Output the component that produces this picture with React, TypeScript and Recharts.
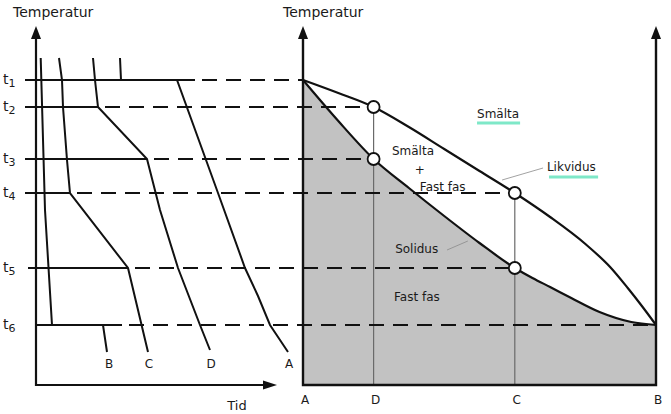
import React from 'react';
import { ComposedChart, Line, Area, Scatter, XAxis, YAxis } from 'recharts';

// ---------- axis extents (data units) ----------
// Temperature: arbitrary units, 0 = bottom of both diagrams
const TEMP_MIN = -29;
const TEMP_MAX = 385;
// Time (left diagram), 0 = temperature axis
const TIME_MIN = -36;
const TIME_MAX = 635;
// Composition (right diagram), 0 = pure A, 100 = pure B
const COMP_MIN = -303 / 3.53;
const COMP_MAX = 368 / 3.53;

// ---------- data ----------
const levelNames = ['1', '2', '3', '4', '5', '6'];
const levelTemps = [305, 278, 226, 192, 117, 60];
const levelSolidFrom = [-11, -11, -11, -11, -8, 1]; // time
const levelSolidTo = [159, 62, 111, 34, 92, 86]; // time
const levelDashTo = [0, 20, 20, 60, 60, 100]; // composition

const liquidusComp = [0, 10, 20, 30, 40, 50, 60, 70, 80, 87, 92, 96, 100];
const liquidusTemp = [305, 292, 278, 258, 236, 214, 192, 168, 141, 118, 97, 79, 60];

const solidusComp = [0, 10, 20, 30, 40, 50, 60, 65, 70, 76, 84, 93, 100];
const solidusTemp = [305, 264, 226, 197, 169, 142, 117, 107, 98, 87, 73, 63, 60];

const circleComp = [20, 20, 60, 60];
const circleTemp = [278, 226, 192, 117];

const alloyComp = [0, 20, 60, 100];
const alloyNames = ['A', 'D', 'C', 'B'];
const alloyLineTop = [0, 278, 192, 0];

const curveBTime = [4.7, 9, 16, 67, 71];
const curveBTemp = [327, 175, 60, 60, 33];
const curveCTime = [23, 26, 27, 31, 34, 92, 112];
const curveCTemp = [327, 305, 278, 225, 192, 117, 33];
const curveDTime = [57, 59, 62, 111, 124, 142, 164, 174];
const curveDTemp = [327, 305, 278, 226, 175, 117, 60, 35];
const curveATime = [84, 85, 141, 182, 209, 222, 234, 244, 252];
const curveATemp = [327, 305, 305, 192, 117, 89, 60, 45, 33];

const curveNames = ['B', 'C', 'D', 'A'];
const curveNameTime = [73, 113, 175, 253];
const curveNameTemp = [17, 17, 17, 17];

const rightTexts = ['Temperatur', 'Smälta', 'Smälta', '+', 'Fast fas', 'Likvidus', 'Solidus', 'Fast fas'];
const rightTextComp = [-5.67, 49.3, 25.2, 33.1, 33.1, 69.1, 26.1, 25.8];
const rightTextTemp = [368, 267, 230, 211, 194, 214, 132, 84];
const rightTextSize = [14, 12, 12, 12, 12, 12, 12, 12];
const rightTextAnchor = ['start', 'start', 'start', 'middle', 'start', 'start', 'start', 'start'];

const leftTexts = ['Temperatur', 'Tid'];
const leftTextTime = [-23, 201];
const leftTextTemp = [368, -25];
const leftTextSize = [14, 13];
const leftTextAnchor = ['start', 'middle'];

const underlineComp = [[49.3, 61.5], [69.7, 83.6]];
const underlineTemp = [262, 208];

const leaderComp = [[56.4, 68.0], [40.8, 46.7]];
const leaderTemp = [[205, 217], [135, 144]];

// ---------- helpers ----------
const pts = (xs: number[], ts: number[]) => xs.map((x, i) => ({ x, T: ts[i] }));
const timeToComp = (t: number) =>
  COMP_MIN + ((t - TIME_MIN) * (COMP_MAX - COMP_MIN)) / (TIME_MAX - TIME_MIN);

const INK = '#111';
const FONT = '"DejaVu Sans", Arial, sans-serif';

const textShape = (p: any) => {
  const d = p.payload;
  return (
    <text
      x={p.cx + (d.dx || 0)}
      y={p.cy}
      fontSize={d.size}
      textAnchor={d.anchor}
      fontFamily={FONT}
      fill="#1a1a1a"
    >
      {d.text}
    </text>
  );
};

const levelLabelShape = (p: any) => (
  <text x={p.cx} y={p.cy} fontSize={14} fontFamily={FONT} fill="#1a1a1a">
    t
    <tspan fontSize={11} dy={3}>
      {p.payload.text}
    </tspan>
  </text>
);

const circleShape = (p: any) => (
  <circle cx={p.cx} cy={p.cy} r={6} fill="#fff" stroke={INK} strokeWidth={1.8} />
);

const arrowShape = (p: any) => {
  const { cx, cy, payload } = p;
  if (payload.dir === 'up')
    return <polygon points={`${cx},${cy} ${cx - 5},${cy + 13} ${cx + 5},${cy + 13}`} fill={INK} />;
  return <polygon points={`${cx},${cy} ${cx - 14},${cy - 4.5} ${cx - 14},${cy + 4.5}`} fill={INK} />;
};

const lineProps = {
  dataKey: 'T',
  dot: false,
  activeDot: false,
  isAnimationActive: false,
  legendType: 'none' as const,
  type: 'linear' as const,
};

export default function App() {
  return (
    <div style={{ position: 'absolute', left: 0, top: 0, width: 671, height: 414, background: '#fff' }}>
      <ComposedChart width={671} height={414} margin={{ top: 0, right: 0, bottom: 0, left: 0 }}>
        <XAxis xAxisId="time" type="number" dataKey="x" domain={[TIME_MIN, TIME_MAX]} hide />
        <XAxis xAxisId="comp" type="number" dataKey="x" domain={[COMP_MIN, COMP_MAX]} hide />
        <YAxis type="number" dataKey="T" domain={[TEMP_MIN, TEMP_MAX]} hide />

        {/* solid region below solidus */}
        <Area
          xAxisId="comp"
          data={pts(solidusComp, solidusTemp)}
          dataKey="T"
          type="monotone"
          baseValue={0}
          fill="#c2c2c2"
          fillOpacity={1}
          stroke="none"
          isAnimationActive={false}
          legendType="none"
          activeDot={false}
          dot={false}
        />

        {/* vertical composition lines */}
        {alloyComp.map((c, i) =>
          alloyLineTop[i] > 0 ? (
            <Line
              key={'v' + i}
              xAxisId="comp"
              data={pts([c, c], [0, alloyLineTop[i]])}
              {...lineProps}
              stroke="#6a6a6a"
              strokeWidth={1.2}
            />
          ) : null
        )}

        {/* dashed level lines */}
        {levelTemps.map((T, i) => (
          <Line
            key={'d' + i}
            xAxisId="comp"
            data={pts([timeToComp(levelSolidTo[i] + 7), levelDashTo[i]], [T, T])}
            {...lineProps}
            stroke={INK}
            strokeWidth={2.2}
            strokeDasharray="15 9"
          />
        ))}

        {/* solid level lines in the cooling diagram */}
        {levelTemps.map((T, i) => (
          <Line
            key={'s' + i}
            xAxisId="time"
            data={pts([levelSolidFrom[i], levelSolidTo[i]], [T, T])}
            {...lineProps}
            stroke={INK}
            strokeWidth={2}
          />
        ))}

        {/* cooling curves */}
        <Line xAxisId="time" data={pts(curveBTime, curveBTemp)} {...lineProps} stroke={INK} strokeWidth={2} />
        <Line xAxisId="time" data={pts(curveCTime, curveCTemp)} {...lineProps} stroke={INK} strokeWidth={2} />
        <Line xAxisId="time" data={pts(curveDTime, curveDTemp)} {...lineProps} stroke={INK} strokeWidth={2} />
        <Line xAxisId="time" data={pts(curveATime, curveATemp)} {...lineProps} stroke={INK} strokeWidth={2} />

        {/* liquidus & solidus */}
        <Line xAxisId="comp" data={pts(liquidusComp, liquidusTemp)} {...lineProps} type="monotone" stroke={INK} strokeWidth={2.2} />
        <Line xAxisId="comp" data={pts(solidusComp, solidusTemp)} {...lineProps} type="monotone" stroke={INK} strokeWidth={2.2} />

        {/* leader lines */}
        {leaderComp.map((c, i) => (
          <Line key={'l' + i} xAxisId="comp" data={pts(c, leaderTemp[i])} {...lineProps} stroke="#8a8a8a" strokeWidth={0.8} />
        ))}

        {/* underlines */}
        {underlineComp.map((c, i) => (
          <Line
            key={'u' + i}
            xAxisId="comp"
            data={pts(c, [underlineTemp[i], underlineTemp[i]])}
            {...lineProps}
            stroke="#7ee8c8"
            strokeWidth={3}
          />
        ))}

        {/* axes */}
        <Line xAxisId="time" data={pts([0, 0, 228], [348, 0, 0])} {...lineProps} stroke={INK} strokeWidth={2.2} />
        <Line xAxisId="comp" data={pts([0, 0, 100, 100], [348, 0, 0, 348])} {...lineProps} stroke={INK} strokeWidth={2.4} />
        <Scatter
          xAxisId="time"
          data={[{ x: 0, T: 359, dir: 'up' }, { x: 241, T: 0, dir: 'right' }]}
          shape={arrowShape}
          isAnimationActive={false}
          legendType="none"
        />
        <Scatter
          xAxisId="comp"
          data={[{ x: 0, T: 359, dir: 'up' }, { x: 100, T: 359, dir: 'up' }]}
          shape={arrowShape}
          isAnimationActive={false}
          legendType="none"
        />

        {/* circles */}
        <Scatter xAxisId="comp" data={pts(circleComp, circleTemp)} shape={circleShape} isAnimationActive={false} legendType="none" />

        {/* texts */}
        <Scatter
          xAxisId="time"
          data={levelTemps.map((T, i) => ({ x: -33, T: T - 4, text: levelNames[i] }))}
          shape={levelLabelShape}
          isAnimationActive={false}
          legendType="none"
        />
        <Scatter
          xAxisId="time"
          data={curveNames.map((n, i) => ({ x: curveNameTime[i], T: curveNameTemp[i], text: n, size: 12, anchor: 'middle' }))}
          shape={textShape}
          isAnimationActive={false}
          legendType="none"
        />
        <Scatter
          xAxisId="time"
          data={leftTexts.map((n, i) => ({ x: leftTextTime[i], T: leftTextTemp[i], text: n, size: leftTextSize[i], anchor: leftTextAnchor[i] }))}
          shape={textShape}
          isAnimationActive={false}
          legendType="none"
        />
        <Scatter
          xAxisId="comp"
          data={rightTexts.map((n, i) => ({ x: rightTextComp[i], T: rightTextTemp[i], text: n, size: rightTextSize[i], anchor: rightTextAnchor[i] }))}
          shape={textShape}
          isAnimationActive={false}
          legendType="none"
        />
        <Scatter
          xAxisId="comp"
          data={alloyNames.map((n, i) => ({ x: alloyComp[i], T: -19, text: n, size: 12, anchor: 'middle', dx: 2 }))}
          shape={textShape}
          isAnimationActive={false}
          legendType="none"
        />
      </ComposedChart>
    </div>
  );
}
